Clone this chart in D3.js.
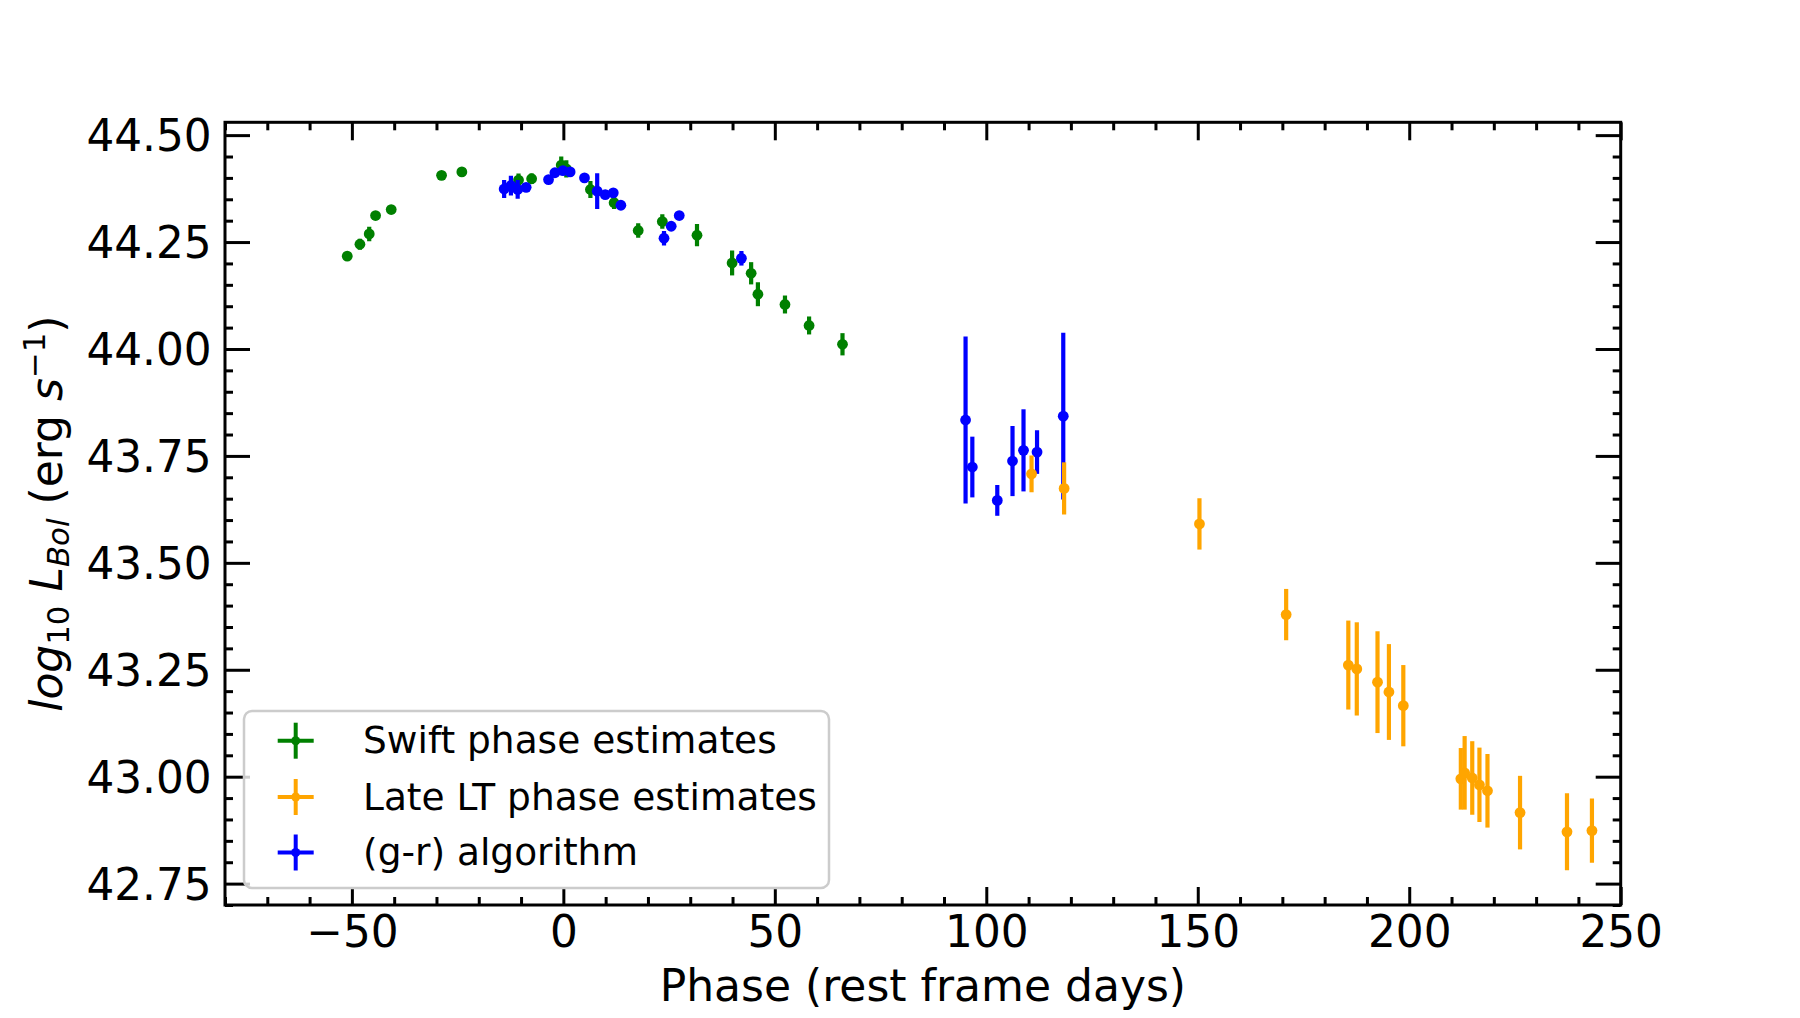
<!DOCTYPE html>
<html>
<head>
<meta charset="utf-8">
<script src="https://cdn.jsdelivr.net/npm/d3@7"></script>
<style>
  html, body { margin: 0; padding: 0; background: #fff; }
  svg { display: block; font-family: "DejaVu Sans", sans-serif; }
</style>
</head>
<body>
<svg id="chart" width="1800" height="1018"></svg>
<script>
// ---------------- data ----------------
// Swift phase estimates (green)
const swiftPhase = [-51.1, -48.1, -45.9, -44.4, -40.7, -28.8, -24.0, -10.6, -7.5, -0.5, 0.7, 6.4, 12.0, 17.7, 23.4, 31.6, 39.9, 44.4, 46.0, 52.4, 58.1, 66.0];
const swiftLum   = [44.217, 44.245, 44.269, 44.312, 44.326, 44.406, 44.414, 44.395, 44.398, 44.430, 44.421, 44.373, 44.342, 44.277, 44.298, 44.266, 44.201, 44.177, 44.128, 44.104, 44.055, 44.011];
const swiftErr   = [0.006, 0.013, 0.017, 0.008, 0.010, 0.010, 0.008, 0.015, 0.012, 0.020, 0.020, 0.020, 0.015, 0.017, 0.017, 0.026, 0.029, 0.026, 0.028, 0.021, 0.021, 0.026];

// Late LT phase estimates (orange)
const ltPhase = [110.7, 118.4, 150.4, 170.9, 185.6, 187.6, 192.5, 195.2, 198.6, 212.2, 213.1, 214.9, 216.6, 218.5, 226.2, 237.3, 243.2];
const ltLum   = [43.708, 43.674, 43.591, 43.379, 43.261, 43.252, 43.221, 43.198, 43.166, 42.995, 43.009, 42.997, 42.981, 42.967, 42.916, 42.871, 42.874];
const ltErr   = [0.043, 0.061, 0.060, 0.060, 0.104, 0.109, 0.119, 0.112, 0.095, 0.072, 0.086, 0.086, 0.087, 0.086, 0.086, 0.090, 0.075];

// (g-r) algorithm (blue)
const grPhase = [-14.0, -12.4, -10.8, -8.8, -3.5, -2.0, -0.1, 1.6, 5.0, 8.0, 9.9, 11.8, 13.6, 23.8, 25.5, 27.4, 42.1, 95.1, 96.7, 102.6, 106.2, 108.8, 112.0, 118.2];
const grLum   = [44.374, 44.382, 44.373, 44.378, 44.396, 44.412, 44.417, 44.414, 44.400, 44.369, 44.361, 44.365, 44.336, 44.259, 44.287, 44.312, 44.212, 43.834, 43.724, 43.646, 43.738, 43.763, 43.759, 43.843];
const grErr   = [0.021, 0.023, 0.022, 0.010, 0.008, 0.008, 0.008, 0.008, 0.008, 0.042, 0.008, 0.010, 0.008, 0.017, 0.006, 0.006, 0.017, 0.195, 0.071, 0.036, 0.082, 0.096, 0.051, 0.195];

const seriesNames = ["Swift phase estimates", "Late LT phase estimates", "(g-r) algorithm"];
const seriesColors = ["green", "orange", "blue"];

const xMajorTicks = [-50, 0, 50, 100, 150, 200, 250];
const yMajorTicks = [42.75, 43.00, 43.25, 43.50, 43.75, 44.00, 44.25, 44.50];
const xDomain = [-80, 250];
const yDomain = [42.70, 44.53];

// ---------------- layout ----------------
const L = 225, T = 122.3, R = 1620.7, B = 905;
const TICK_FS = 43.75, LABEL_FS = 44;
const svg = d3.select("#chart");
svg.append("rect").attr("width", 1800).attr("height", 1018).attr("fill", "#fff");

const x = d3.scaleLinear().domain(xDomain).range([L, R]);
const y = d3.scaleLinear().domain(yDomain).range([B, T]);

const xMinor = d3.range(-80, 251, 10).filter(v => v % 50 !== 0);
const yMinor = d3.range(42.70, 44.531, 0.05).map(v => +v.toFixed(2)).filter(v => Math.abs((v * 100) % 25) > 1e-6 && v >= yDomain[0] && v <= yDomain[1]);

const fmtX = d => (d < 0 ? "\u2212" + Math.abs(d) : String(d));
const fmtY = d => d.toFixed(2);

function styleAxis(g) {
  g.select(".domain").remove();
  g.selectAll(".tick line").attr("stroke", "#000").attr("stroke-width", 3);
}

// bottom
const gB = svg.append("g").attr("transform", `translate(0,${B})`)
  .call(d3.axisBottom(x).tickValues(xMajorTicks).tickSize(-18).tickFormat(fmtX));
styleAxis(gB);
gB.selectAll(".tick text").attr("y", 42).attr("dy", null)
  .attr("font-size", TICK_FS).attr("fill", "#000").attr("font-family", "DejaVu Sans");
svg.append("g").attr("transform", `translate(0,${B})`)
  .call(d3.axisBottom(x).tickValues(xMinor).tickSize(-8).tickFormat(""))
  .call(styleAxis);
// top
svg.append("g").attr("transform", `translate(0,${T})`)
  .call(d3.axisTop(x).tickValues(xMajorTicks).tickSize(-18).tickFormat(""))
  .call(styleAxis);
svg.append("g").attr("transform", `translate(0,${T})`)
  .call(d3.axisTop(x).tickValues(xMinor).tickSize(-8).tickFormat(""))
  .call(styleAxis);
// left
const gL = svg.append("g").attr("transform", `translate(${L},0)`)
  .call(d3.axisLeft(y).tickValues(yMajorTicks).tickSize(-25).tickFormat(fmtY));
styleAxis(gL);
gL.selectAll(".tick text").attr("x", -13.3).attr("dy", "0.36em")
  .attr("font-size", TICK_FS).attr("fill", "#000").attr("font-family", "DejaVu Sans");
svg.append("g").attr("transform", `translate(${L},0)`)
  .call(d3.axisLeft(y).tickValues(yMinor).tickSize(-8).tickFormat(""))
  .call(styleAxis);
// right
svg.append("g").attr("transform", `translate(${R},0)`)
  .call(d3.axisRight(y).tickValues(yMajorTicks).tickSize(-25).tickFormat(""))
  .call(styleAxis);
svg.append("g").attr("transform", `translate(${R},0)`)
  .call(d3.axisRight(y).tickValues(yMinor).tickSize(-8).tickFormat(""))
  .call(styleAxis);

// ---------------- data marks ----------------
svg.append("clipPath").attr("id", "plotclip")
  .append("rect").attr("x", L).attr("y", T).attr("width", R - L).attr("height", B - T);
const plot = svg.append("g").attr("clip-path", "url(#plotclip)");

function drawSeries(px, py, pe, color) {
  const data = px.map((p, i) => ({ p, v: py[i], e: pe[i] }));
  const g = plot.append("g");
  g.selectAll("line").data(data).join("line")
    .attr("x1", d => x(d.p)).attr("x2", d => x(d.p))
    .attr("y1", d => y(d.v - d.e)).attr("y2", d => y(d.v + d.e))
    .attr("stroke", color).attr("stroke-width", 4.2);
  g.selectAll("circle").data(data).join("circle")
    .attr("cx", d => x(d.p)).attr("cy", d => y(d.v)).attr("r", 5.4)
    .attr("fill", color);
}
drawSeries(swiftPhase, swiftLum, swiftErr, seriesColors[0]);
drawSeries(grPhase, grLum, grErr, seriesColors[2]);
drawSeries(ltPhase, ltLum, ltErr, seriesColors[1]);

// spines
svg.append("rect").attr("x", L).attr("y", T).attr("width", R - L).attr("height", B - T)
  .attr("fill", "none").attr("stroke", "#000").attr("stroke-width", 3);

// ---------------- legend ----------------
const lg = svg.append("g");
lg.append("rect").attr("x", 244).attr("y", 711).attr("width", 585).attr("height", 177)
  .attr("rx", 8).attr("ry", 8)
  .attr("fill", "#fff").attr("fill-opacity", 0.8)
  .attr("stroke", "#cccccc").attr("stroke-width", 2.5);
const rowY = [740.7, 797, 852.5];
seriesNames.forEach((name, i) => {
  const cy = rowY[i], cx = 295.7, c = seriesColors[i];
  lg.append("line").attr("x1", cx - 18).attr("x2", cx + 18).attr("y1", cy).attr("y2", cy)
    .attr("stroke", c).attr("stroke-width", 4);
  lg.append("line").attr("x1", cx).attr("x2", cx).attr("y1", cy - 18).attr("y2", cy + 18)
    .attr("stroke", c).attr("stroke-width", 4);
  lg.append("circle").attr("cx", cx).attr("cy", cy).attr("r", 4.5).attr("fill", c);
  lg.append("text").attr("x", 363).attr("y", cy + 12.5)
    .attr("font-size", 37.5).attr("fill", "#000").text(name);
});

// ---------------- axis labels ----------------
svg.append("text").attr("x", (L + R) / 2).attr("y", 1001)
  .attr("text-anchor", "middle").attr("font-size", LABEL_FS).attr("fill", "#000")
  .text("Phase (rest frame days)");

const yl = svg.append("text")
  .attr("transform", `translate(62,${(T + B) / 2}) rotate(-90)`)
  .attr("text-anchor", "middle").attr("font-size", LABEL_FS).attr("fill", "#000");
yl.append("tspan").attr("font-style", "italic").text("log");
yl.append("tspan").attr("font-size", 30.8).attr("dy", 7).text("10");
yl.append("tspan").attr("dy", -7).text(" ");
yl.append("tspan").attr("font-style", "italic").text("L");
yl.append("tspan").attr("font-style", "italic").attr("font-size", 30.8).attr("dy", 7).text("Bol");
yl.append("tspan").attr("dy", -7).text(" (erg ");
yl.append("tspan").attr("font-style", "italic").text("s");
yl.append("tspan").attr("font-size", 30.8).attr("dy", -17).text("\u22121");
yl.append("tspan").attr("dy", 17).text(")");
</script>
</body>
</html>
